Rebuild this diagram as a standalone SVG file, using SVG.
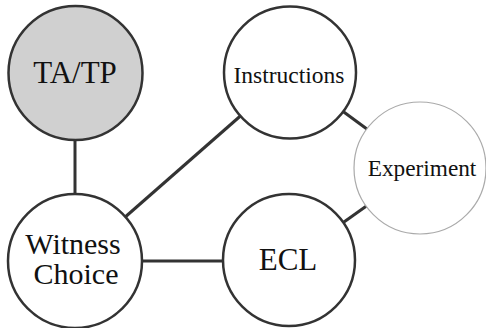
<svg xmlns="http://www.w3.org/2000/svg" width="486" height="328" viewBox="0 0 486 328">
  <style>
    .edge { stroke: #333; stroke-width: 3; fill: none; }
    .node { fill: #fff; stroke: #333; stroke-width: 2.5; }
    .shaded { fill: #d0d0d0; }
    .light { stroke: #aaa; stroke-width: 1.2; }
    .label { font-family: "Liberation Serif", "Times New Roman", serif; fill: #111; text-anchor: middle; }
  </style>
  <rect width="486" height="328" fill="#fff"/>
  <g id="connectors">
    <line class="edge" x1="75" y1="73" x2="75" y2="261"/>
    <line class="edge" x1="75" y1="261" x2="290" y2="72.5"/>
    <line class="edge" x1="75" y1="261" x2="289" y2="261"/>
    <line class="edge" x1="290" y1="72.5" x2="420" y2="168"/>
    <line class="edge" x1="420" y1="168" x2="289" y2="261"/>
  </g>
  <g id="ta-tp">
    <circle class="node shaded" cx="75.5" cy="73" r="67"/>
    <text class="label" x="75" y="83" font-size="31">TA/TP</text>
  </g>
  <g id="instructions">
    <circle class="node" cx="290" cy="72.5" r="66"/>
    <text class="label" x="289" y="83" font-size="23.5">Instructions</text>
  </g>
  <g id="experiment">
    <circle class="node light" cx="420" cy="168" r="66"/>
    <text class="label" x="422" y="176" font-size="23.3">Experiment</text>
  </g>
  <g id="witness-choice">
    <circle class="node" cx="75" cy="261" r="67"/>
    <text class="label" x="73" y="254" font-size="30">Witness</text>
    <text class="label" x="76" y="284" font-size="30">Choice</text>
  </g>
  <g id="ecl">
    <circle class="node" cx="289" cy="260" r="66"/>
    <text class="label" x="288" y="270" font-size="31">ECL</text>
  </g>
</svg>
